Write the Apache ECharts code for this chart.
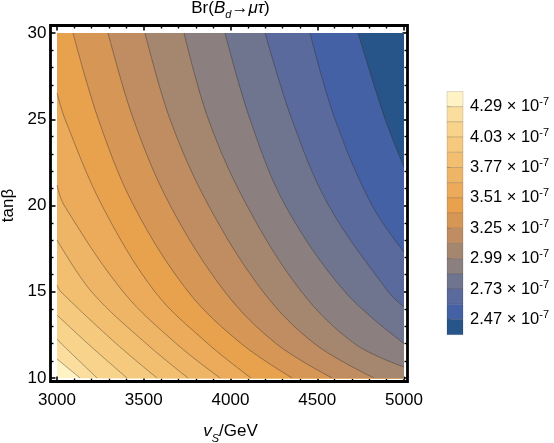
<!DOCTYPE html>
<html>
<head>
<meta charset="utf-8">
<script src="https://cdn.jsdelivr.net/npm/echarts@6/dist/echarts.min.js"></script>
<style>
html, body { margin: 0; padding: 0; background: #fff; }
#chart { width: 554px; height: 443px; }
</style>
</head>
<body>
<div id="chart"></div>
<script>
// contour levels of Br, in units of 1e-7 (high -> low)
var levels = [4.29, 4.16, 4.03, 3.90, 3.77, 3.64, 3.51, 3.38, 3.25, 3.12, 2.99, 2.86, 2.73, 2.60, 2.47];
var legendTicks = [4.29, 4.03, 3.77, 3.51, 3.25, 2.99, 2.73, 2.47];
var legendRange = [2.34, 4.42];
var xTicks = [3000, 5000, 500];
var yTicks = [10, 30, 5];

// contour lines, points are [vS, tanβ]
var c429 = [[3000, 11.10], [3133, 10]];
var c416 = [[3000, 12.26], [3027, 11.97], [3231, 10]];
var c403 = [[3000, 13.65], [3180, 11.97], [3403, 10]];
var c390 = [[3000, 15.39], [3023, 14.99], [3344, 11.97], [3576, 10]];
var c377 = [[3000, 18.00], [3200, 14.99], [3517, 11.97], [3755, 10]];
var c364 = [[3000, 21.19], [3040, 20.03], [3382, 14.99], [3690, 11.97], [3940, 10]];
var c351 = [[3000, 26.52], [3046, 25.01], [3258, 20.03], [3565, 14.99], [3872, 11.97], [4118, 10]];
var c338 = [[3092, 30], [3238, 25.01], [3440, 20.03], [3757, 14.99], [4065, 11.97], [4355, 10]];
var c325 = [[3294, 30], [3440, 25.01], [3651, 20.03], [3968, 14.99], [4266, 11.97], [4585, 10]];
var c312 = [[3507, 30], [3651, 25.01], [3872, 20.03], [4189, 14.99], [4487, 11.97], [4827, 10]];
var c299 = [[3732, 30], [3872, 25.01], [4093, 20.03], [4410, 14.99], [4718, 11.97], [5000, 10.64]];
var c286 = [[3968, 30], [4112, 25.01], [4314, 20.03], [4660, 14.99], [5000, 12.0]];
var c273 = [[4199, 30], [4353, 25.01], [4564, 20.03], [4910, 14.99], [5000, 14.12]];
var c260 = [[4458, 30], [4602, 25.01], [4814, 20.03], [5000, 17.30]];
var c247 = [[4735, 30], [4891, 25.01], [5000, 22.23]];
var contours = [c429, c416, c403, c390, c377, c364, c351, c338, c325, c312, c299, c286, c273, c260, c247];

// band colours, highest band first
var bandColors = ['#FFF2C4', '#FBDD9E', '#F8D38C', '#F5C97E', '#F2BF71', '#EEB566', '#EBAB5B', '#E8A24E',
  '#D69756', '#BF8D61', '#A5866F', '#8C7F7F', '#70758F', '#5A6A9C', '#4561A6', '#275589'];

var font = 'Liberation Sans, Arial, sans-serif';
var chart = echarts.init(document.getElementById('chart'));

var series = [];
contours.forEach(function (pts, i) {
  var data = pts.slice();
  var last = pts[pts.length - 1];
  // curve leaves through the bottom edge: everything right of it is in the next band too
  if (last[1] <= yTicks[0]) {
    data.push(['-', '-'], [last[0] - 2, yTicks[0] - 5], [xTicks[1], yTicks[0] - 5]);
  }
  series.push({
    type: 'line',
    xAxisIndex: 0,
    yAxisIndex: 0,
    data: data,
    smooth: 0.35,
    symbol: 'none',
    silent: true,
    clip: true,
    lineStyle: { width: 0.7, color: 'rgba(55,45,35,0.6)' },
    areaStyle: { origin: 'end', color: bandColors[i + 1], opacity: 1 }
  });
});

var legendBands = bandColors.map(function (c, i) {
  var hi = i === 0 ? legendRange[1] : levels[i - 1];
  var lo = i === levels.length ? legendRange[0] : levels[i];
  return [lo, hi];
});

series.push({
  type: 'custom',
  xAxisIndex: 2,
  yAxisIndex: 2,
  silent: true,
  data: legendBands,
  renderItem: function (params, api) {
    var p0 = api.coord([0, api.value(1)]);
    var p1 = api.coord([1, api.value(0)]);
    return {
      type: 'rect',
      shape: { x: p0[0], y: p0[1], width: p1[0] - p0[0], height: p1[1] - p0[1] },
      style: { fill: bandColors[params.dataIndex], stroke: 'rgba(0,0,0,0.22)', lineWidth: 0.6 }
    };
  }
});

var tickStyle = { show: true, inside: true, length: 5, lineStyle: { color: '#000', width: 1.6 } };
var minorStyle = { show: true, splitNumber: 5, length: 3, lineStyle: { color: '#000', width: 1.4 } };
var labelStyle = { color: '#000', fontSize: 17, fontFamily: font, formatter: function (v) { return String(v); } };

var option = {
  animation: false,
  backgroundColor: '#fff',
  grid: [
    { left: 57, top: 33, width: 347, height: 345, show: true, backgroundColor: bandColors[0], borderWidth: 0, outerBoundsMode: 'none', containLabel: false },
    { left: 447, top: 91.5, width: 16, height: 243.2, outerBoundsMode: 'none', containLabel: false }
  ],
  xAxis: [
    {
      type: 'value', gridIndex: 0, position: 'bottom', offset: 3.5,
      min: xTicks[0], max: xTicks[1], interval: xTicks[2],
      axisLine: { show: false }, splitLine: { show: false },
      axisTick: tickStyle, minorTick: minorStyle,
      axisLabel: Object.assign({ margin: 10 }, labelStyle),
      name: '{i|v}{sub|S}{n|/GeV}', nameLocation: 'middle', nameGap: 37,
      nameTextStyle: {
        rich: {
          i: { fontSize: 17, fontStyle: 'italic', fontFamily: font, color: '#000' },
          sub: { fontSize: 11, fontStyle: 'italic', fontFamily: font, color: '#000', verticalAlign: 'bottom', lineHeight: 26 },
          n: { fontSize: 17, fontFamily: font, color: '#000' }
        }
      }
    },
    {
      type: 'value', gridIndex: 0, position: 'top', offset: 7.5,
      min: xTicks[0], max: xTicks[1], interval: xTicks[2],
      axisLine: { show: false }, splitLine: { show: false },
      axisTick: tickStyle, minorTick: minorStyle, axisLabel: { show: false },
      name: '{n|Br(}{i|B}{sub|d}{n|→}{i|μτ}{n|)}', nameLocation: 'middle', nameGap: 5,
      nameTextStyle: {
        rich: {
          i: { fontSize: 17, fontStyle: 'italic', fontFamily: font, color: '#000' },
          sub: { fontSize: 11, fontStyle: 'italic', fontFamily: font, color: '#000', verticalAlign: 'bottom', lineHeight: 25 },
          n: { fontSize: 17, fontFamily: font, color: '#000' }
        }
      }
    },
    { type: 'value', gridIndex: 1, min: 0, max: 1, show: false }
  ],
  yAxis: [
    {
      type: 'value', gridIndex: 0, position: 'left', offset: 6.5,
      min: yTicks[0], max: yTicks[1], interval: yTicks[2],
      axisLine: { show: false }, splitLine: { show: false },
      axisTick: tickStyle, minorTick: minorStyle,
      axisLabel: Object.assign({ margin: 4 }, labelStyle),
      name: 'tanβ', nameLocation: 'middle', nameGap: 27, nameRotate: 90,
      nameTextStyle: { color: '#000', fontSize: 17, fontFamily: font }
    },
    {
      type: 'value', gridIndex: 0, position: 'right', offset: 3.5,
      min: yTicks[0], max: yTicks[1], interval: yTicks[2],
      axisLine: { show: false }, splitLine: { show: false },
      axisTick: tickStyle, minorTick: minorStyle, axisLabel: { show: false }
    },
    {
      type: 'value', gridIndex: 1, position: 'right',
      min: legendRange[0], max: legendRange[1],
      axisLine: { show: false }, splitLine: { show: false },
      axisTick: { show: true, length: 4, customValues: legendTicks, lineStyle: { color: '#999', width: 1 } },
      axisLabel: {
        margin: 7,
        customValues: legendTicks,
        formatter: function (v) { return '{m|' + v.toFixed(2) + ' × 10}{s|-7}'; },
        rich: {
          m: { fontSize: 16.5, fontFamily: font, color: '#000', lineHeight: 20 },
          s: { fontSize: 11, fontFamily: font, color: '#000', verticalAlign: 'top', lineHeight: 12 }
        }
      }
    }
  ],
  graphic: [{
    type: 'rect', z: 100, silent: true,
    shape: { x: 50.5, y: 25.5, width: 357, height: 356 },
    style: { fill: null, stroke: '#000', lineWidth: 2.8 }
  }],
  series: series
};

chart.setOption(option);
</script>
</body>
</html>
